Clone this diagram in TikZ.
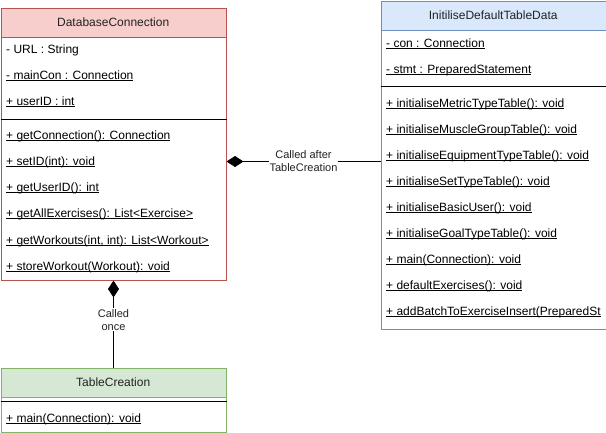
\documentclass[tikz,border=0pt]{standalone}
\usepackage{fontspec}
\setmainfont{Liberation Sans}
\usetikzlibrary{arrows.meta}
\definecolor{dbfill}{HTML}{F8CECC}
\definecolor{dbline}{HTML}{B85450}
\definecolor{idfill}{HTML}{DAE8FC}
\definecolor{idline}{HTML}{6C8EBF}
\definecolor{tcfill}{HTML}{D5E8D4}
\definecolor{tcline}{HTML}{82B366}
\definecolor{txt}{HTML}{222222}
% underline at a fixed distance below the baseline
\newcommand\ulmember[1]{\setbox0\hbox{#1}\rlap{\rule[-1.8pt]{\wd0}{0.8pt}}\box0}
\begin{document}
\begin{tikzpicture}[x=1pt,y=-1pt,
  font=\fontsize{12}{14}\selectfont,
  boxframe/.style={draw=#1, line width=1pt, anchor=north west, inner sep=0pt, minimum width=225pt},
  boxhead/.style={fill=#1, anchor=north west, inner sep=0pt, minimum width=225pt, minimum height=30pt, text=txt},
  member/.style={anchor=base west, inner sep=0pt, text=black},
  divider/.style={line width=1pt, black},
  link/.style={line width=1pt, black},
  comp/.style={link, {Diamond[length=17pt,width=11pt]}-},
  linklabel/.style={fill=white, align=center, inner sep=1pt, text=txt, font=\fontsize{11}{13}\selectfont}
]
\useasboundingbox (0,0) rectangle (606,432);

% ---- DatabaseConnection ----
\node[boxhead=dbfill] (dbh) at (0.5,7.5) {DatabaseConnection};
\node[boxframe=dbline, minimum height=272pt] (db) at (0.5,7.5) {};
\draw[dbline, line width=1pt] (dbh.south west) -- (dbh.south east);
\draw[divider] (db.west |- 0,119.5) -- (db.east |- 0,119.5);
\node[member] (db1) at (6,53) {- URL : String};
\node[member] (db2) at (6,79) {\ulmember{- mainCon : Connection}};
\node[member] (db3) at (6,105) {\ulmember{+ userID : int}};
\node[member] (db4) at (6,139) {\ulmember{+ getConnection(): Connection}};
\node[member] (db5) at (6,165) {\ulmember{+ setID(int): void}};
\node[member] (db6) at (6,191) {\ulmember{+ getUserID(): int}};
\node[member] (db7) at (6,217) {\ulmember{+ getAllExercises(): List<Exercise>}};
\node[member] (db8) at (6,244) {\ulmember{+ getWorkouts(int, int): List<Workout>}};
\node[member] (db9) at (6,270) {\ulmember{+ storeWorkout(Workout): void}};

% ---- InitiliseDefaultTableData ----
\node[boxhead=idfill] (idh) at (380.5,0.5) {InitiliseDefaultTableData};
\node[boxframe=idline, minimum height=328pt] (id) at (380.5,0.5) {};
\draw[idline, line width=1pt] (idh.south west) -- (idh.south east);
\draw[divider] (id.west |- 0,86.5) -- (id.east |- 0,86.5);
\begin{scope}
\clip (381,0) rectangle (605,328);
\node[member] (id1) at (386,47) {\ulmember{- con : Connection}};
\node[member] (id2) at (386,73) {\ulmember{- stmt : PreparedStatement}};
\node[member] (id3) at (386,107) {\ulmember{+ initialiseMetricTypeTable(): void}};
\node[member] (id4) at (386,133) {\ulmember{+ initialiseMuscleGroupTable(): void}};
\node[member] (id5) at (386,159) {\ulmember{+ initialiseEquipmentTypeTable(): void}};
\node[member] (id6) at (386,185) {\ulmember{+ initialiseSetTypeTable(): void}};
\node[member] (id7) at (386,211) {\ulmember{+ initialiseBasicUser(): void}};
\node[member] (id8) at (386,237) {\ulmember{+ initialiseGoalTypeTable(): void}};
\node[member] (id9) at (386,263) {\ulmember{+ main(Connection): void}};
\node[member] (id10) at (386,289) {\ulmember{+ defaultExercises(): void}};
\node[member] (id11) at (386,315) {\ulmember{+ addBatchToExerciseInsert(PreparedSt}};
\end{scope}

% ---- TableCreation ----
\node[boxhead=tcfill] (tch) at (0.5,367.5) {TableCreation};
\node[boxframe=tcline, minimum height=64pt] (tc) at (0.5,367.5) {};
\draw[tcline, line width=1pt] (tch.south west) -- (tch.south east);
\draw[divider] (tc.west |- 0,401.5) -- (tc.east |- 0,401.5);
\node[member] (tc1) at (6,422) {\ulmember{+ main(Connection): void}};

% ---- connectors ----
\coordinate (dbport) at (db.east |- 0,161.5);
\draw[comp] (dbport) -- node[linklabel] (l1) {Called after\\TableCreation} (id.west |- dbport);
\draw[comp] (db.south) -- node[linklabel, pos=0.45] (l2) {Called\\once} (tc.north);
\end{tikzpicture}
\end{document}
